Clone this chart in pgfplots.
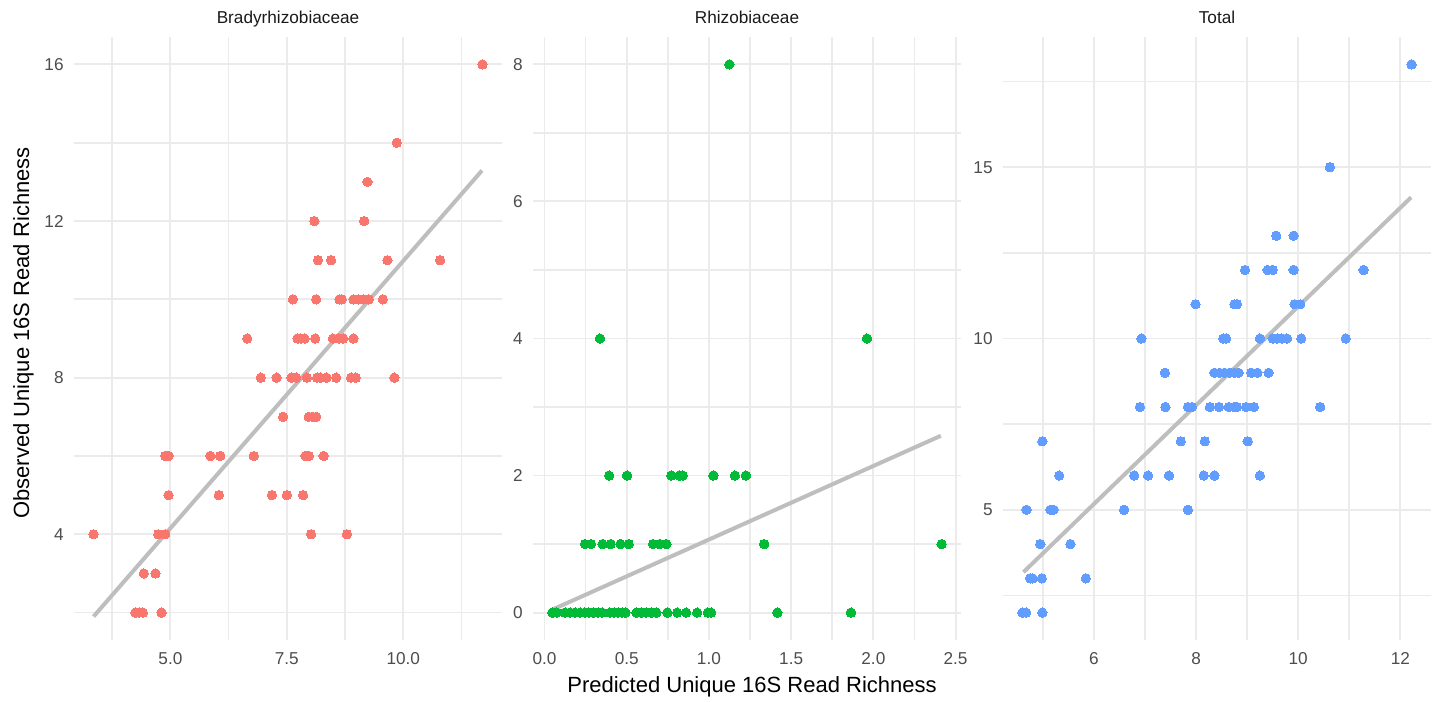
\documentclass[border=0pt]{standalone}
\usepackage{fontspec}
\setmainfont{Liberation Sans}
\usepackage{pgfplots}
\pgfplotsset{compat=1.18}
\definecolor{gridc}{HTML}{EBEBEB}
\definecolor{tickc}{HTML}{4D4D4D}
\definecolor{stripc}{HTML}{1A1A1A}
\definecolor{redc}{HTML}{F8766D}
\definecolor{greenc}{HTML}{00BA38}
\definecolor{bluec}{HTML}{619CFF}
\definecolor{linec}{HTML}{BEBEBE}
\pgfplotsset{
  facet/.style={
    scale only axis, width=214pt, height=301.5pt, anchor=north west,
    axis line style={draw=none}, major tick length=0pt, minor tick length=0pt,
    grid=both,
    major grid style={gridc, line width=0.95pt},
    minor grid style={gridc, line width=0.85pt},
    tick label style={font=\fontsize{8.6}{10}\selectfont, text=tickc},
    xticklabel style={inner sep=0pt, anchor=north, yshift=-6pt},
    yticklabel style={inner sep=0pt, anchor=east, xshift=-5pt},
    every axis title/.style={font=\fontsize{8.6}{10}\selectfont, text=stripc, at={(0.5,1)}, anchor=base, yshift=6.5pt, inner sep=0pt},
    /pgf/number format/assume math mode=true,
  },
  pts/.style={only marks, mark=*, mark size=2.35pt, mark options={fill=#1, draw=#1, line width=0pt}},
  fit/.style={no marks, linec, line width=2pt},
}
\begin{document}
\begin{tikzpicture}
\useasboundingbox (0,0) rectangle (719pt,350.5pt);
% Panel 1
\begin{axis}[facet, at={(37pt,332pt)},
  xmin=2.93, xmax=12.12, ymin=1.3, ymax=16.7,
  xtick={5,7.5,10}, xticklabels={5.0,7.5,10.0},
  minor xtick={3.75,6.25,8.75,11.25},
  ytick={4,8,12,16}, minor ytick={2,6,10,14},
  title={Bradyrhizobiaceae}]
\addplot[pts=redc] coordinates {
(11.70,16) (9.86,14) (9.23,13) (8.09,12) (9.16,12)
(8.17,11) (8.45,11) (9.66,11) (10.79,11)
(7.63,10) (8.13,10) (8.63,10) (8.68,10) (8.93,10) (9.04,10) (9.15,10) (9.26,10) (9.56,10)
(6.65,9) (7.73,9) (7.80,9) (7.88,9) (8.11,9) (8.49,9) (8.61,9) (8.71,9) (8.93,9)
(6.94,8) (7.28,8) (7.60,8) (7.70,8) (7.93,8) (8.15,8) (8.22,8) (8.35,8) (8.56,8) (8.88,8) (8.98,8) (9.81,8)
(7.42,7) (7.97,7) (8.05,7) (8.13,7)
(4.89,6) (4.96,6) (5.86,6) (6.07,6) (6.79,6) (7.90,6) (7.97,6) (8.29,6)
(4.96,5) (6.04,5) (7.18,5) (7.50,5) (7.85,5)
(3.35,4) (4.74,4) (4.89,4) (8.02,4) (8.79,4)
(4.43,3) (4.68,3)
(4.25,2) (4.33,2) (4.41,2) (4.81,2)
};
\addplot[fit] coordinates {(3.35,1.90) (11.69,13.29)};
\end{axis}
% Panel 2
\begin{axis}[facet, at={(266.5pt,332pt)},
  xmin=-0.07, xmax=2.533, ymin=-0.4, ymax=8.4,
  xtick={0,0.5,1,1.5,2,2.5}, xticklabels={0.0,0.5,1.0,1.5,2.0,2.5},
  minor xtick={0.25,0.75,1.25,1.75,2.25},
  ytick={0,2,4,6,8}, minor ytick={1,3,5,7},
  title={Rhizobiaceae}]
\addplot[pts=greenc] coordinates {
(1.124,8) (0.337,4) (1.961,4)
(0.393,2) (0.502,2) (0.771,2) (0.821,2) (0.841,2) (1.027,2) (1.158,2) (1.225,2)
(0.246,1) (0.282,1) (0.353,1) (0.402,1) (0.462,1) (0.512,1) (0.660,1) (0.700,1) (0.741,1) (1.336,1) (2.415,1)
(0.048,0) (0.075,0) (0.125,0) (0.155,0) (0.186,0) (0.216,0) (0.246,0) (0.270,0) (0.297,0) (0.327,0)
(0.351,0) (0.398,0) (0.424,0) (0.448,0) (0.472,0) (0.492,0) (0.559,0) (0.589,0) (0.619,0) (0.650,0)
(0.680,0) (0.747,0) (0.807,0) (0.862,0) (0.928,0) (0.993,0) (1.013,0) (1.416,0) (1.864,0)
};
\addplot[fit] coordinates {(0.054,0.05) (2.41,2.58)};
\end{axis}
% Panel 3
\begin{axis}[facet, at={(501.5pt,332pt)},
  xmin=4.22, xmax=12.60, ymin=1.2, ymax=18.8,
  xtick={6,8,10,12}, minor xtick={5,7,9,11},
  ytick={5,10,15}, minor ytick={2.5,7.5,12.5,17.5},
  title={Total}]
\addplot[pts=bluec] coordinates {
(12.22,18) (10.62,15) (9.57,13) (9.91,13)
(8.96,12) (9.40,12) (9.50,12) (9.91,12) (11.28,12)
(7.99,11) (8.75,11) (8.80,11) (9.93,11) (10.04,11)
(6.93,10) (8.53,10) (8.59,10) (9.25,10) (9.50,10) (9.59,10) (9.68,10) (9.78,10) (10.06,10) (10.93,10)
(7.39,9) (8.36,9) (8.46,9) (8.56,9) (8.66,9) (8.75,9) (8.83,9) (9.08,9) (9.20,9) (9.42,9)
(6.90,8) (7.40,8) (7.84,8) (7.92,8) (8.27,8) (8.45,8) (8.64,8) (8.75,8) (8.80,8) (8.98,8) (9.13,8) (10.43,8)
(4.99,7) (7.70,7) (8.17,7) (9.01,7)
(5.32,6) (6.79,6) (7.06,6) (7.47,6) (8.15,6) (8.36,6) (9.25,6)
(4.68,5) (5.15,5) (5.21,5) (6.59,5) (7.84,5)
(4.95,4) (5.54,4)
(4.75,3) (4.80,3) (4.98,3) (5.84,3)
(4.60,2) (4.67,2) (4.99,2)
};
\addplot[fit] coordinates {(4.62,3.18) (12.21,14.12)};
\end{axis}
\node[rotate=90, anchor=base, font=\fontsize{11}{13}\selectfont, text=black] at (14.5pt,184pt) {Observed Unique 16S Read Richness};
\node[anchor=base, font=\fontsize{11}{13}\selectfont, text=black] at (376pt,4.15pt) {Predicted Unique 16S Read Richness};
\end{tikzpicture}
\end{document}
